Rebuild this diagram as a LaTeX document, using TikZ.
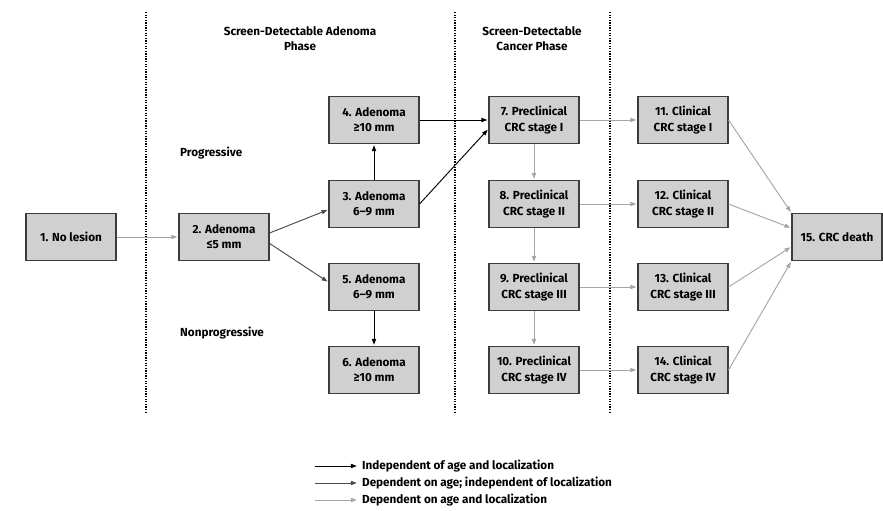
\documentclass[tikz,border=0pt]{standalone}
\usepackage{fontspec}
\setmainfont{Fira Sans}
\usetikzlibrary{arrows.meta}
\definecolor{boxgray}{RGB}{208,208,208}
\definecolor{edgegray}{RGB}{60,60,60}
\definecolor{darkarrow}{RGB}{75,75,75}
\definecolor{lightarrow}{RGB}{165,165,165}

\begin{document}
\begin{tikzpicture}[x=0.03cm, y=-0.03cm,
    every node/.style={font=\bfseries\fontsize{10}{13}\selectfont},
    state/.style={draw=edgegray, fill=boxgray, line width=0.9pt, minimum width=2.7cm, minimum height=1.41cm, align=center, inner sep=0pt},
    indep/.style={-{Triangle[length=5pt,width=3.6pt]}, black, line width=0.8pt, shorten >=1pt},
    agedep/.style={indep, darkarrow},
    alldep/.style={indep, lightarrow},
    phase/.style={line width=1.3pt, dash pattern=on 1.1pt off 1.1pt}]
    \useasboundingbox (0,0) rectangle (883,511);
    % phase borders
    \draw[phase] (146,12) -- (146,413);
    \draw[phase] (455,12) -- (455,413);
    \draw[phase] (610,12) -- (610,413);
    % headers
    \node[align=center] (hadenoma) at (300,39) {Screen-Detectable Adenoma\\Phase};
    \node[align=center] (hcancer) at (532,39) {Screen-Detectable\\Cancer Phase};
    \node[anchor=west] (lprog) at (176,153) {Progressive};
    \node[anchor=west] (lnonprog) at (176,333) {Nonprogressive};
    % adenoma states
    \node[state] (n1) at (71,237) {1. No lesion};
    \node[state] (n2) at (224,237) {2. Adenoma\\≤5 mm};
    \node[state] (n3) at (374,204) {3. Adenoma\\6–9 mm};
    \node[state] (n4) at (374,120) {4. Adenoma\\≥10 mm};
    \node[state] (n5) at (374,287) {5. Adenoma\\6–9 mm};
    \node[state] (n6) at (374,370) {6. Adenoma\\≥10 mm};
    % cancer states
    \foreach \i/\y/\s in {7/120/I, 8/204/II, 9/287/III, 10/370/IV}
        \node[state] (n\i) at (534,\y) {\i. Preclinical\\CRC stage \s};
    \foreach \i/\y/\s in {11/120/I, 12/204/II, 13/287/III, 14/370/IV}
        \node[state] (n\i) at (683,\y) {\i. Clinical\\CRC stage \s};
    \node[state] (n15) at (837,237) {15. CRC death};
    % transitions
    \draw[alldep] (n1) -- (n2);
    \draw[agedep] (n2.5) -- (n3.187);
    \draw[agedep] (n2.352) -- (n5.174);
    \draw[indep] (n3) -- (n4);
    \draw[indep] (n5) -- (n6);
    \draw[indep] (n4) -- (n7);
    \draw[indep] (n3.east) -- (n7.191);
    \foreach \a/\b in {7/8, 8/9, 9/10, 7/11, 8/12, 9/13, 10/14}
        \draw[alldep] (n\a) -- (n\b);
    \draw[alldep] (n11.east) -- (n15.north west);
    \draw[alldep] (n12.east) -- (n15.169);
    \draw[alldep] (n13.east) -- (n15.192);
    \draw[alldep] (n14.east) -- (n15.south west);
    % legend
    \node[anchor=west] (leg1) at (358,466) {Independent of age and localization};
    \node[anchor=west] (leg2) at (358,483) {Dependent on age; independent of localization};
    \node[anchor=west] (leg3) at (358,500) {Dependent on age and localization};
    \coordinate (s1) at (315,466);
    \coordinate (s2) at (315,483);
    \coordinate (s3) at (315,500);
    \draw[indep] (s1) -- (leg1.west);
    \draw[agedep] (s2) -- (leg2.west);
    \draw[alldep] (s3) -- (leg3.west);
\end{tikzpicture}
\end{document}
